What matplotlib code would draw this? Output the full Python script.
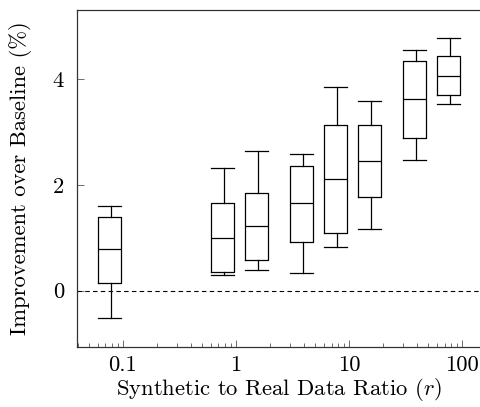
import matplotlib
matplotlib.use('Agg')
import matplotlib.pyplot as plt
from matplotlib.ticker import LogLocator, FixedLocator, FixedFormatter, NullFormatter

FS = 16.3
plt.rcParams.update({
    'font.family': 'serif',
    'font.serif': ['cmr10'],
    'mathtext.fontset': 'cm',
    'axes.unicode_minus': False,
    'axes.formatter.use_mathtext': True,
    'font.size': FS,
})

# box positions on the log axis and the five-number summaries
positions = [0.078, 0.78, 1.56, 3.9, 7.8, 15.6, 39, 78]
whisker_low = [-0.52, 0.29, 0.39, 0.34, 0.82, 1.17, 2.48, 3.54]
q1 = [0.15, 0.35, 0.58, 0.92, 1.10, 1.77, 2.89, 3.70]
median = [0.78, 1.00, 1.22, 1.65, 2.11, 2.46, 3.62, 4.07]
q3 = [1.39, 1.65, 1.85, 2.36, 3.14, 3.14, 4.34, 4.44]
whisker_high = [1.61, 2.32, 2.64, 2.58, 3.86, 3.59, 4.56, 4.78]

x_ticks = [0.1, 1, 10, 100]
x_tick_labels = ['0.1', '1', '10', '100']
y_ticks = [0, 2, 4]

stats = []
for lo, a, m, b, hi in zip(whisker_low, q1, median, q3, whisker_high):
    stats.append({'whislo': lo, 'q1': a, 'med': m, 'q3': b, 'whishi': hi, 'fliers': []})

# box width is constant in log space (0.2 decades)
widths = [p * (10 ** 0.1 - 10 ** -0.1) for p in positions]

fig = plt.figure(figsize=(4.8, 4.07), dpi=100)
ax = fig.add_axes([76.7 / 480, 1 - 346.7 / 407, (482 - 76.7) / 480, (346.7 - 10) / 407])

lw = 0.9
ax.set_xscale('log')
ax.bxp(stats, positions=positions, widths=widths, showfliers=False,
       boxprops=dict(color='black', linewidth=lw),
       medianprops=dict(color='black', linewidth=lw),
       whiskerprops=dict(color='black', linewidth=lw),
       capprops=dict(color='black', linewidth=lw),
       capwidths=widths, manage_ticks=False)

ax.axhline(0, color='black', linestyle=(0, (4, 3)), linewidth=0.8)

ax.set_xlim(0.039, 150)
ax.set_ylim(-1.06, 5.31)

ax.xaxis.set_major_locator(FixedLocator(x_ticks))
ax.xaxis.set_major_formatter(FixedFormatter(x_tick_labels))
ax.xaxis.set_minor_locator(LogLocator(base=10, subs=range(2, 10)))
ax.xaxis.set_minor_formatter(NullFormatter())
ax.set_yticks(y_ticks)
ax.set_yticklabels([str(v) for v in y_ticks])

ax.tick_params(axis='both', which='major', direction='in', length=5, width=0.6, color='#555555', labelsize=FS)
ax.tick_params(axis='x', which='minor', direction='in', length=3, width=0.6, color='#555555')
ax.tick_params(axis='x', which='major', pad=6)
ax.tick_params(axis='y', which='major', pad=9)

for s in ax.spines.values():
    s.set_linewidth(0.9)
    s.set_color('#333333')

ax.set_xlabel('Synthetic to Real Data Ratio ($r$)', fontsize=FS, labelpad=1)
ax.set_ylabel('Improvement over Baseline (%)', fontsize=FS, labelpad=15)

fig.savefig('out.png', dpi=100)
